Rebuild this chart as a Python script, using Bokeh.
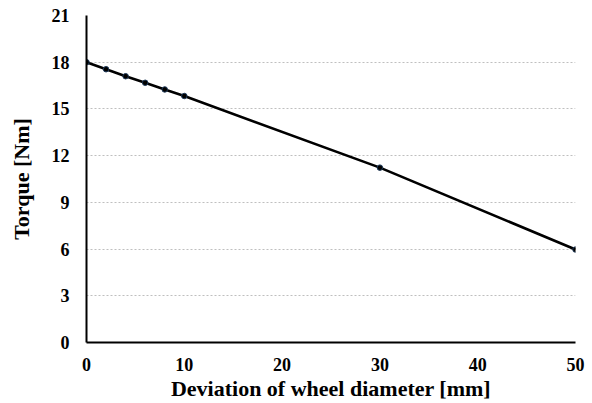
from bokeh.plotting import figure
from bokeh.models import Range1d, FixedTicker
from bokeh.embed import file_html
from bokeh.resources import INLINE

deviation_mm = [0, 2, 4, 6, 8, 10, 30, 50]
torque_nm = [18.0, 17.55, 17.1, 16.68, 16.25, 15.83, 11.23, 5.97]
x_ticks = [0, 10, 20, 30, 40, 50]
y_ticks = [0, 3, 6, 9, 12, 15, 18, 21]

p = figure(width=592, height=403, output_backend="svg", toolbar_location=None,
           x_range=Range1d(0, 50), y_range=Range1d(0, 21),
           min_border_left=86, min_border_right=17, min_border_top=15, min_border_bottom=0)
p.outline_line_color = None
p.background_fill_color = "white"

p.line(deviation_mm, torque_nm, line_color="black", line_width=2.6)
p.scatter(deviation_mm, torque_nm, size=5.5, fill_color="black", line_color="#1f3a5a", line_width=1)

font = "Liberation Serif"
for ax in (p.xaxis[0], p.yaxis[0]):
    ax.major_tick_line_color = None
    ax.minor_tick_line_color = None
    ax.axis_line_color = "black"
    ax.axis_line_width = 2
    ax.major_label_text_font = font
    ax.major_label_text_font_style = "bold"
    ax.major_label_text_font_size = "18px"
    ax.major_label_text_color = "black"
    ax.axis_label_text_font = font
    ax.axis_label_text_font_style = "bold"
    ax.axis_label_text_font_size = "22px"
    ax.axis_label_text_color = "black"

p.xaxis.ticker = FixedTicker(ticks=x_ticks)
p.yaxis.ticker = FixedTicker(ticks=y_ticks)
p.xaxis.axis_label = "Deviation of wheel diameter [mm]"
p.yaxis.axis_label = "Torque [Nm]"
p.xaxis.major_label_standoff = 9
p.yaxis.major_label_standoff = 11
p.xaxis.axis_label_standoff = 2
p.yaxis.axis_label_standoff = 15

p.xgrid.grid_line_color = None
p.ygrid.grid_line_color = "#bfbfbf"
p.ygrid.grid_line_dash = "2 2"
p.ygrid.grid_line_width = 1

open("out.html", "w").write(file_html(p, INLINE))
